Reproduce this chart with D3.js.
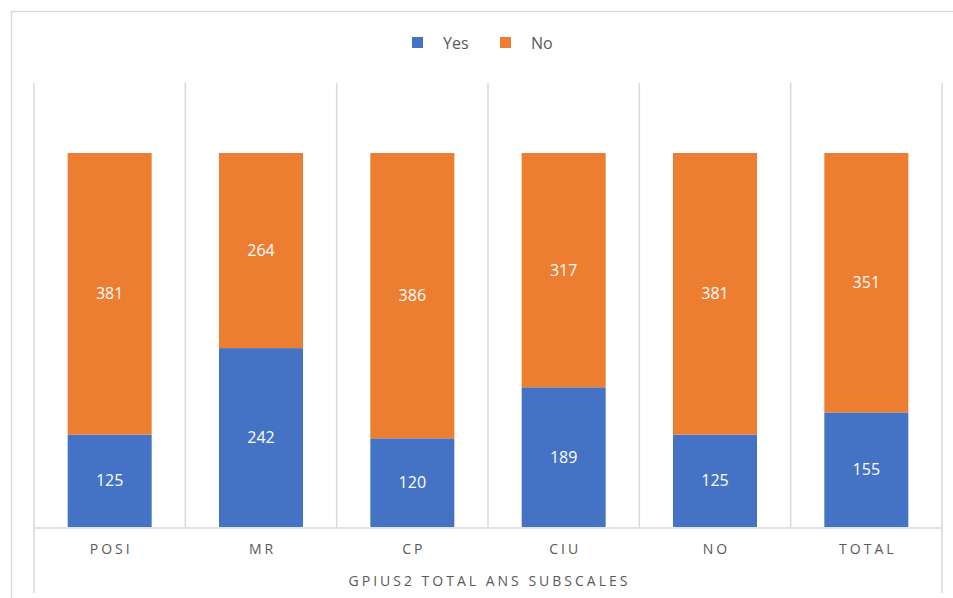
<!DOCTYPE html>
<html>
<head>
<meta charset="utf-8">
<script src="https://cdn.jsdelivr.net/npm/d3@7"></script>
<style>
  body { margin: 0; background: #fff; }
  text { font-family: "Open Sans", "Liberation Sans", sans-serif; }
</style>
</head>
<body>
<div id="chart"></div>
<script>
var categories = ["POSI", "MR", "CP", "CIU", "NO", "TOTAL"];
var yesValues = [125, 242, 120, 189, 125, 155];
var noValues = [381, 264, 386, 317, 381, 351];
var seriesNames = ["Yes", "No"];
var axisTitle = "GPIUS2 TOTAL ANS SUBSCALES";

var width = 953;
var height = 598;
var colors = ["#4472C4", "#ED7D31"];

var svg = d3.select("#chart").append("svg")
  .attr("width", width)
  .attr("height", height);

// outer chart border (cropped at right/bottom)
svg.append("rect")
  .attr("x", 11.5)
  .attr("y", 11.5)
  .attr("width", 980)
  .attr("height", 620)
  .attr("fill", "none")
  .attr("stroke", "#d9d9d9")
  .attr("stroke-width", 1.5);

var plotLeft = 34, plotRight = 942, plotTop = 83, plotBottom = 527;

var x = d3.scaleBand()
  .domain(categories)
  .range([plotLeft, plotRight])
  .paddingInner(0)
  .paddingOuter(0);

var y = d3.scaleLinear()
  .domain([0, 1])
  .range([plotBottom, 153]);

var rows = categories.map(function(c, i) {
  return { cat: c, Yes: yesValues[i], No: noValues[i] };
});

var layers = d3.stack()
  .keys(seriesNames)
  .offset(d3.stackOffsetExpand)(rows);

// category separators; outer ones run down through the axis title area
var seps = d3.range(categories.length + 1).map(function(i) {
  return plotLeft + i * x.bandwidth();
});
svg.selectAll("line.sep")
  .data(seps)
  .enter().append("line")
    .attr("class", "sep")
    .attr("x1", function(d) { return d; })
    .attr("x2", function(d) { return d; })
    .attr("y1", plotTop)
    .attr("y2", function(d, i) { return (i === 0 || i === seps.length - 1) ? 593 : plotBottom; })
    .attr("stroke", "#d9d9d9")
    .attr("stroke-width", 1.5);

var barWidth = 84;
var groups = svg.selectAll("g.layer")
  .data(layers)
  .enter().append("g")
    .attr("class", "layer")
    .attr("fill", function(d, i) { return colors[i]; });

groups.selectAll("rect")
  .data(function(d) { return d; })
  .enter().append("rect")
    .attr("x", function(d) { return x(d.data.cat) + (x.bandwidth() - barWidth) / 2; })
    .attr("y", function(d) { return y(d[1]); })
    .attr("width", barWidth)
    .attr("height", function(d) { return y(d[0]) - y(d[1]); });

groups.each(function(layer) {
  var key = layer.key;
  d3.select(this).selectAll("text")
    .data(layer)
    .enter().append("text")
      .attr("x", function(d) { return x(d.data.cat) + x.bandwidth() / 2; })
      .attr("y", function(d) { return (y(d[0]) + y(d[1])) / 2; })
      .attr("dy", "0.35em")
      .attr("text-anchor", "middle")
      .attr("fill", "#fff")
      .style("font-size", "16px")
      .text(function(d) { return d.data[key]; });
});

// baseline
svg.append("line")
  .attr("x1", plotLeft)
  .attr("x2", plotRight)
  .attr("y1", plotBottom + 1)
  .attr("y2", plotBottom + 1)
  .attr("stroke", "#d9d9d9")
  .attr("stroke-width", 1.5);

// category labels
svg.selectAll("text.cat")
  .data(categories)
  .enter().append("text")
    .attr("class", "cat")
    .attr("x", function(d) { return x(d) + x.bandwidth() / 2 + 1.5; })
    .attr("y", 554)
    .attr("text-anchor", "middle")
    .attr("fill", "#595959")
    .style("font-size", "14px")
    .style("letter-spacing", "3px")
    .text(function(d) { return d; });

svg.append("text")
  .attr("x", (plotLeft + plotRight) / 2 + 1.5)
  .attr("y", 586)
  .attr("text-anchor", "middle")
  .attr("fill", "#595959")
  .style("font-size", "14px")
  .style("letter-spacing", "3px")
  .text(axisTitle);

// legend
var legendPos = [412, 500];
var legend = svg.selectAll("g.legend")
  .data(seriesNames)
  .enter().append("g")
    .attr("class", "legend")
    .attr("transform", function(d, i) { return "translate(" + legendPos[i] + ",37)"; });

legend.append("rect")
  .attr("width", 11)
  .attr("height", 11)
  .attr("fill", function(d, i) { return colors[i]; });

legend.append("text")
  .attr("x", 31)
  .attr("y", 6)
  .attr("dy", "0.35em")
  .attr("fill", "#595959")
  .style("font-size", "16px")
  .text(function(d) { return d; });
</script>
</body>
</html>
